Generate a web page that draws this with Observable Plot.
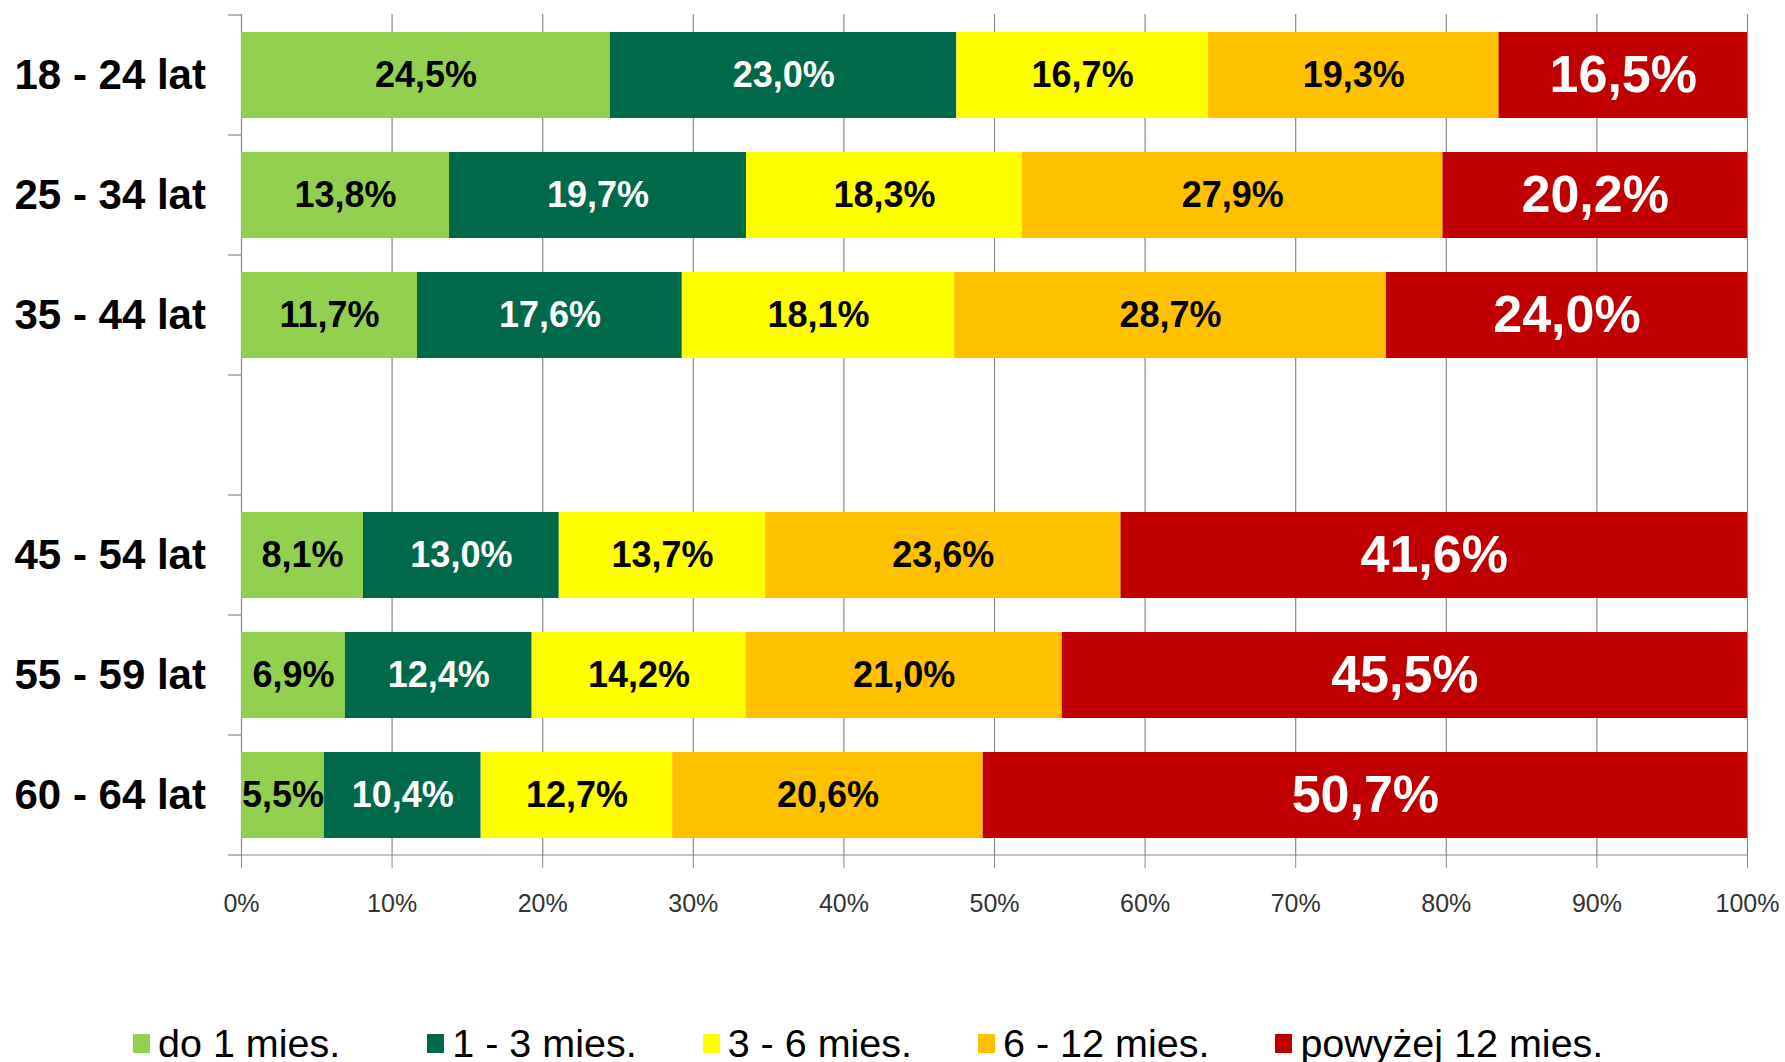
<!DOCTYPE html>
<html>
<head>
<meta charset="utf-8">
<script src="https://cdn.jsdelivr.net/npm/d3@7"></script>
<script src="https://cdn.jsdelivr.net/npm/@observablehq/plot@0.6"></script>
<style>
  html, body { margin: 0; padding: 0; background: #fff; }
  body { position: relative; width: 1785px; height: 1062px; overflow: hidden; font-family: "Liberation Sans", Arial, sans-serif; }
  #legend { position: absolute; left: 133px; top: 1024px; display: flex; align-items: center; gap: 66px; font-size: 39.5px; line-height: 39px; color: #000; white-space: nowrap; }
  .item { display: flex; align-items: center; gap: 8px; }
  .item:first-child { margin-right: 21px; }
  .sw { width: 17px; height: 19px; display: inline-block; }
</style>
</head>
<body>
<div id="chart"></div>
<div id="legend"></div>
<script>
// ---- data ----
const ages = ["18 - 24 lat", "25 - 34 lat", "35 - 44 lat", "45 - 54 lat", "55 - 59 lat", "60 - 64 lat"];
const spacer = " ";
const yDomain = [ages[0], ages[1], ages[2], spacer, ages[3], ages[4], ages[5]];
const seriesNames = ["do 1 mies.", "1 - 3 mies.", "3 - 6 mies.", "6 - 12 mies.", "powyżej 12 mies."];
const colors = ["#92D050", "#00694A", "#FFFF00", "#FFC000", "#C00000"];
const textColors = ["#000000", "#FFFFFF", "#000000", "#000000", "#FFFFFF"];
const do1mies   = [24.5, 13.8, 11.7, 8.1, 6.9, 5.5];
const mies1_3   = [23.0, 19.7, 17.6, 13.0, 12.4, 10.4];
const mies3_6   = [16.7, 18.3, 18.1, 13.7, 14.2, 12.7];
const mies6_12  = [19.3, 27.9, 28.7, 23.6, 21.0, 20.6];
const powyzej12 = [16.5, 20.2, 24.0, 41.6, 45.5, 50.7];
const seriesValues = [do1mies, mies1_3, mies3_6, mies6_12, powyzej12];
const xTicks = [0, 0.1, 0.2, 0.3, 0.4, 0.5, 0.6, 0.7, 0.8, 0.9, 1.0];

// ---- 100% stacked table ----
const rows = [];
ages.forEach((age, i) => {
  const total = d3.sum(seriesValues, s => s[i]);
  let cum = 0;
  seriesValues.forEach((s, j) => {
    const v = s[i];
    rows.push({age, series: seriesNames[j], k: j, value: v,
               x1: cum / total, x2: (cum + v) / total, mid: (cum + v / 2) / total});
    cum += v;
  });
});
const fmt = v => d3.format(".1f")(v).replace(".", ",") + "%";

const plot = Plot.plot({
  width: 1785,
  height: 960,
  marginLeft: 241,
  marginRight: 38,
  marginTop: 14,
  marginBottom: 104,
  style: {fontFamily: "'Liberation Sans', Arial, sans-serif", background: "#fff", overflow: "visible"},
  x: {domain: [0, 1], axis: null},
  y: {domain: yDomain, paddingInner: 0.28, paddingOuter: 0.14, axis: null},
  color: {domain: seriesNames, range: colors},
  marks: [
    Plot.gridX({ticks: xTicks, stroke: "#8a8a8a", strokeOpacity: 1, strokeWidth: 1.2}),
    Plot.barX(rows, {x1: "x1", x2: "x2", y: "age", fill: "series"}),
    Plot.axisX({ticks: xTicks, tickFormat: d3.format(".0%"), tickSize: 12, tickPadding: 26,
                fontSize: 25, stroke: "#8a8a8a", fill: "#333", label: null}),
    Plot.text(ages, {y: d => d, frameAnchor: "left", textAnchor: "start", dx: -227,
                     fontSize: 42, fontWeight: "bold", fill: "#000"}),
    Plot.text(rows.filter(d => d.k < 4), {x: "mid", y: "age", text: d => fmt(d.value),
                     fill: d => textColors[d.k], fontSize: 36, fontWeight: "bold"}),
    Plot.text(rows.filter(d => d.k === 4), {x: "mid", y: "age", text: d => fmt(d.value),
                     fill: d => textColors[d.k], fontSize: 52, fontWeight: "bold"})
  ]
});

// category-axis tick marks and the bottom axis line, from the plot's own scales
const ys = plot.scale("y"), xs = plot.scale("x");
const step = ys.apply(yDomain[1]) - ys.apply(yDomain[0]);
const half = (step - ys.bandwidth) / 2;
const bounds = yDomain.map(c => ys.apply(c) - half);
bounds.push(bounds[bounds.length - 1] + step);
const x0 = xs.apply(0), x1 = xs.apply(1);
const g = d3.select(plot).append("g").attr("stroke", "#8a8a8a").attr("stroke-width", 1.2);
bounds.forEach(b => g.append("line").attr("x1", x0 - 13).attr("x2", x0).attr("y1", b).attr("y2", b));
g.append("line").attr("x1", x0).attr("x2", x1).attr("y1", bounds[bounds.length - 1]).attr("y2", bounds[bounds.length - 1]);

document.getElementById("chart").appendChild(plot);

// legend
const legend = d3.select("#legend");
seriesNames.forEach((name, j) => {
  const it = legend.append("div").attr("class", "item");
  it.append("span").attr("class", "sw").style("background", colors[j]);
  it.append("span").text(name);
});
</script>
</body>
</html>
